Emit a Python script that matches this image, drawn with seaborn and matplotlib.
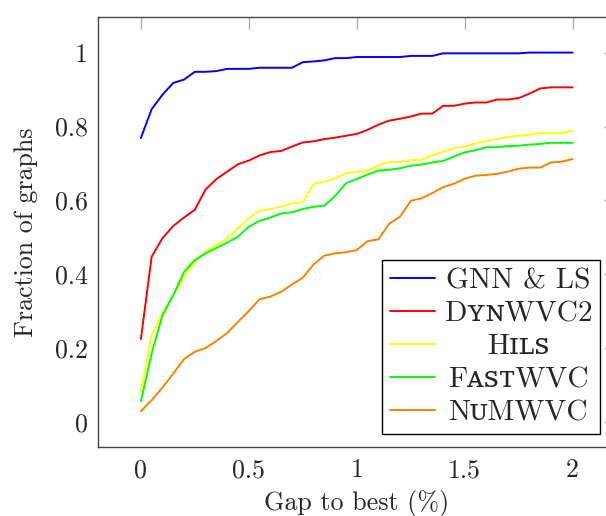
import numpy as np
import pandas as pd
import matplotlib
matplotlib.use('Agg')
import matplotlib.pyplot as plt
import seaborn as sns

# gap to best (%) sampled every 0.05
gaps = [0.0, 0.05, 0.1, 0.15, 0.2, 0.25, 0.3, 0.35, 0.4, 0.45,
        0.5, 0.55, 0.6, 0.65, 0.7, 0.75, 0.8, 0.85, 0.9, 0.95,
        1.0, 1.05, 1.1, 1.15, 1.2, 1.25, 1.3, 1.35, 1.4, 1.45,
        1.5, 1.55, 1.6, 1.65, 1.7, 1.75, 1.8, 1.85, 1.9, 1.95, 2.0]

gnn_ls = [0.769, 0.847, 0.886, 0.918, 0.927, 0.948, 0.948, 0.950, 0.956, 0.956,
          0.956, 0.959, 0.959, 0.959, 0.959, 0.974, 0.976, 0.979, 0.985, 0.985,
          0.988, 0.988, 0.988, 0.988, 0.988, 0.991, 0.991, 0.991, 0.998, 0.998,
          0.998, 0.998, 0.998, 0.998, 0.998, 0.998, 1.0, 1.0, 1.0, 1.0, 1.0]
dynwvc2 = [0.225, 0.448, 0.498, 0.531, 0.554, 0.575, 0.630, 0.658, 0.678, 0.698,
           0.708, 0.722, 0.731, 0.734, 0.746, 0.757, 0.760, 0.766, 0.770, 0.775,
           0.780, 0.791, 0.805, 0.816, 0.821, 0.827, 0.835, 0.835, 0.856, 0.856,
           0.862, 0.865, 0.865, 0.873, 0.873, 0.877, 0.889, 0.903, 0.906, 0.906, 0.906]
hils = [0.085, 0.236, 0.295, 0.344, 0.394, 0.434, 0.462, 0.480, 0.498, 0.525,
        0.552, 0.572, 0.577, 0.583, 0.592, 0.595, 0.645, 0.651, 0.660, 0.674,
        0.677, 0.681, 0.695, 0.704, 0.704, 0.709, 0.709, 0.722, 0.732, 0.741,
        0.746, 0.754, 0.761, 0.766, 0.772, 0.775, 0.778, 0.782, 0.782, 0.782, 0.789]
fastwvc = [0.057, 0.186, 0.290, 0.344, 0.407, 0.439, 0.457, 0.472, 0.486, 0.502,
           0.529, 0.545, 0.554, 0.565, 0.568, 0.577, 0.583, 0.586, 0.612, 0.647,
           0.658, 0.670, 0.681, 0.683, 0.687, 0.694, 0.697, 0.703, 0.707, 0.719,
           0.730, 0.736, 0.744, 0.744, 0.747, 0.748, 0.751, 0.753, 0.756, 0.756, 0.756]
numwvc = [0.030, 0.060, 0.094, 0.132, 0.171, 0.191, 0.201, 0.220, 0.242, 0.272,
          0.301, 0.333, 0.340, 0.353, 0.373, 0.391, 0.427, 0.451, 0.457, 0.460,
          0.466, 0.490, 0.495, 0.537, 0.556, 0.599, 0.606, 0.620, 0.636, 0.645,
          0.659, 0.667, 0.669, 0.672, 0.678, 0.686, 0.689, 0.689, 0.703, 0.705, 0.712]

methods = ['GNN & LS', 'D\u028f\u0274WVC2', 'H\u026a\u029f\ua731', 'F\u1d00\ua731\u1d1bWVC', 'N\u1d1cMWVC']
colors = ['#0000ff', '#ff0000', '#ffff00', '#00ff00', '#ff8000']

xticks = [0, 0.5, 1, 1.5, 2]
xticklabels = ['0', '0.5', '1', '1.5', '2']
yticks = [0, 0.2, 0.4, 0.6, 0.8, 1.0]
yticklabels = ['0', '0.2', '0.4', '0.6', '0.8', '1']

df = pd.DataFrame({
    'gap': gaps * 5,
    'frac': gnn_ls + dynwvc2 + hils + fastwvc + numwvc,
    'method': np.repeat(methods, len(gaps)),
})

sns.set_style('white')
plt.rcParams['font.family'] = ['cmr10', 'DejaVu Serif']
plt.rcParams['axes.formatter.use_mathtext'] = True
FS = 18.7
FS_LEG = 21.2

fig = plt.figure(figsize=(6.06, 5.16), dpi=100)
ax = fig.add_axes([0.1612, 0.1331, 0.855, 0.8345])
sns.lineplot(data=df, x='gap', y='frac', hue='method', hue_order=methods,
             palette=colors, linewidth=1.4, ax=ax, legend=False)

ax.set_xlim(-0.2, 2.2)
ax.set_ylim(-0.0676, 1.097)
ax.set_xticks(xticks)
ax.set_xticklabels(xticklabels)
ax.set_yticks(yticks)
ax.set_yticklabels(yticklabels)
ax.tick_params(direction='in', length=8.4, width=1, color='#b0b0b0',
               top=True, right=True, labelsize=FS)
ax.tick_params(axis='x', pad=8)
ax.tick_params(axis='y', pad=7)
for s in ax.spines.values():
    s.set_color('#444444')
    s.set_linewidth(1.0)

ax.set_xlabel('Gap to best (%)', fontsize=FS, labelpad=6)
ax.set_ylabel('Fraction of graphs', fontsize=FS, labelpad=12)

leg = ax.legend(ax.lines[:5], methods, loc='lower right', bbox_to_anchor=(0.97, 0.03),
                borderaxespad=0, fontsize=FS_LEG, frameon=True, fancybox=False,
                edgecolor='black', framealpha=1, handlelength=1.5,
                handletextpad=0.31, labelspacing=0.22, borderpad=0.27)
leg.get_frame().set_linewidth(1.0)

# center the labels inside the legend like pgfplots does
fig.canvas.draw()
r = fig.canvas.get_renderer()
widths = [t.get_window_extent(r).width for t in leg.get_texts()]
wmax = max(widths)
for t, w in zip(leg.get_texts(), widths):
    t.set_x((wmax - w) / 2)

fig.savefig('out.png', dpi=100)
